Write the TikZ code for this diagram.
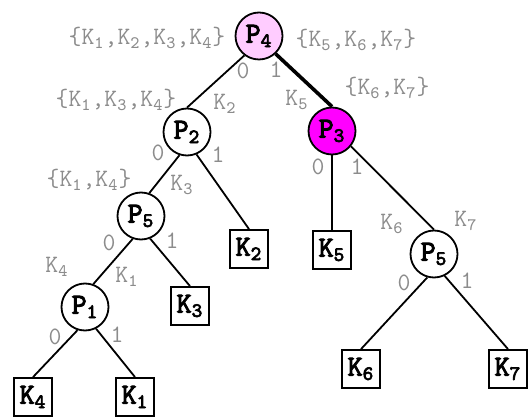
\documentclass[tikz,border=0pt]{standalone}
\usepackage{fontspec}
\usetikzlibrary{positioning}

\newfontfamily\grasmono{Latin Modern Mono}[FakeBold=3.5]

\definecolor{rosepale}{RGB}{255,204,255}
\definecolor{rosevif}{RGB}{255,0,255}
\definecolor{grisetiq}{RGB}{140,140,140}

\newcommand{\cle}[1]{K\textsubscript{#1}}
\newcommand{\pnoeud}[1]{P\textsubscript{#1}}

\begin{document}
\begin{tikzpicture}[
                x=0.5pt, y=-0.5pt,
                line width=0.9pt,
                noeud/.style={draw, circle, minimum size=23.5pt, inner sep=0pt, font=\grasmono\fontsize{14.5}{14.5}\selectfont},
                feuille/.style={draw, rectangle, minimum size=19pt, inner sep=0pt, font=\grasmono\fontsize{14.5}{14.5}\selectfont},
                etiq/.style={text=grisetiq, inner sep=0pt, font=\ttfamily\fontsize{12.5}{12.5}\selectfont}
            ]
            \useasboundingbox (0,0) rectangle (528,416);

            % Racine et premier niveau
            \node[noeud, fill=rosepale] (p4) at (259,36) {\pnoeud{4}};
            \node[noeud] (p2) at (187,132) {\pnoeud{2}};
            \node[noeud, fill=rosevif] (p3) at (332,131) {\pnoeud{3}};

            % Sous-arbre gauche
            \node[noeud] (p5g) at (141,216) {\pnoeud{5}};
            \node[feuille] (k2) at (249,249) {\cle{2}};
            \node[noeud] (p1) at (85,307) {\pnoeud{1}};
            \node[feuille] (k3) at (190,306) {\cle{3}};
            \node[feuille] (k4) at (33,397) {\cle{4}};
            \node[feuille] (k1) at (135,397) {\cle{1}};

            % Sous-arbre droit
            \node[feuille] (k5) at (332,250) {\cle{5}};
            \node[noeud] (p5d) at (434,254) {\pnoeud{5}};
            \node[feuille] (k6) at (361,369) {\cle{6}};
            \node[feuille] (k7) at (508,369) {\cle{7}};

            % Branches (0 a gauche, 1 a droite)
            \draw (p4.233) -- (p2.north);
            \draw[line width=1.8pt] (p4.313) -- (p3.north);
            \draw (p2.252) -- (p5g.70);
            \draw (p2.293) -- (k2.north);
            \draw (p5g.250) -- (p1.70);
            \draw (p5g.292) -- (k3.north);
            \draw (p1.252) -- (k4.north);
            \draw (p1.297) -- (k1.north);
            \draw (p3.south) -- (k5.north);
            \draw (p3.321) -- (p5d.north);
            \draw (p5d.254) -- (k6.north);
            \draw (p5d.296) -- (k7.north);

            % Ensembles de cles
            \node[etiq] (e4g) at (147,38) {\{\cle{1},\cle{2},\cle{3},\cle{4}\}};
            \node[etiq] (e4d) at (356,40) {\{\cle{5},\cle{6},\cle{7}\}};
            \node[etiq] (e2) at (116,100) {\{\cle{1},\cle{3},\cle{4}\}};
            \node[etiq] (e3) at (387,88) {\{\cle{6},\cle{7}\}};
            \node[etiq] (e5) at (89,180) {\{\cle{1},\cle{4}\}};

            % Cles sur les branches
            \node[etiq] (b2) at (225,104) {\cle{2}};
            \node[etiq] (b5) at (297,100) {\cle{5}};
            \node[etiq] (b3) at (182,185) {\cle{3}};
            \node[etiq] (b4) at (57,267) {\cle{4}};
            \node[etiq] (b1) at (127,277) {\cle{1}};
            \node[etiq] (b6) at (392,224) {\cle{6}};
            \node[etiq] (b7) at (466,221) {\cle{7}};

            % Bits
            \node[etiq] (z4) at (243,71) {0};
            \node[etiq] (u4) at (276,70) {1};
            \node[etiq] (z2) at (158,153) {0};
            \node[etiq] (u2) at (218,155) {1};
            \node[etiq] (z5) at (109,243) {0};
            \node[etiq] (u5) at (172,241) {1};
            \node[etiq] (z1) at (55,337) {0};
            \node[etiq] (u1) at (117,335) {1};
            \node[etiq] (z3) at (318,167) {0};
            \node[etiq] (u3) at (357,167) {1};
            \node[etiq] (z6) at (404,283) {0};
            \node[etiq] (u6) at (467,281) {1};

        \end{tikzpicture}
\end{document}
